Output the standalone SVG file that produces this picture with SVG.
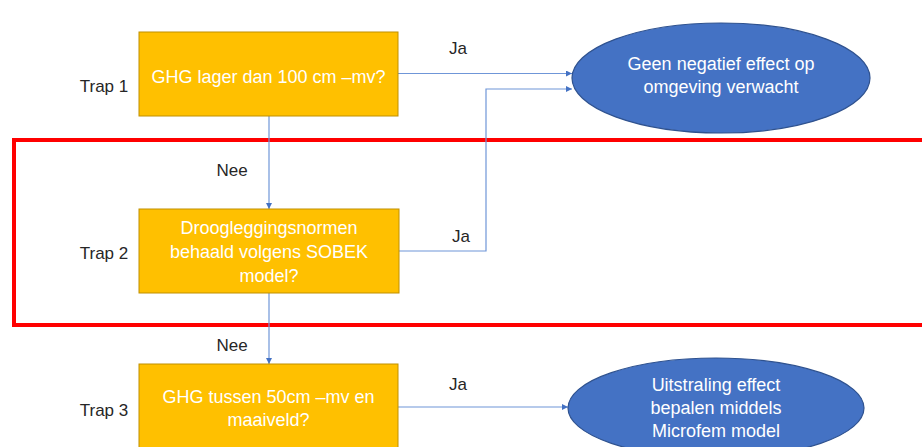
<svg xmlns="http://www.w3.org/2000/svg" width="922" height="447" viewBox="0 0 922 447">
<style>
.box{fill:#FFC000;stroke:#C09000;stroke-width:1}
.ell{fill:#4472C4;stroke:#2F528F;stroke-width:1.2}
.wt{font-family:"Liberation Sans",Arial,sans-serif;font-size:18px;fill:#FFFFFF;text-anchor:middle}
.bt{font-family:"Liberation Sans",Arial,sans-serif;font-size:17px;fill:#262626;text-anchor:middle}
.con{fill:none;stroke:#6F96D8;stroke-width:1.2}
</style>
<defs>
<marker id="arr" viewBox="0 0 10 10" refX="10" refY="5" markerWidth="6" markerHeight="6" markerUnits="userSpaceOnUse" orient="auto">
<path d="M0,0 L10,5 L0,10 z" fill="#4472C4"/>
</marker>
</defs>
<rect width="922" height="447" fill="#FFFFFF"/>
<g id="highlight">
<rect x="14" y="140" width="914" height="185" fill="none" stroke="#FF0000" stroke-width="4"/>
</g>
<g id="connectors">
<path class="con" d="M398,73.5 L572,73.5" marker-end="url(#arr)"/>
<path class="con" d="M269,116 L269,209" marker-end="url(#arr)"/>
<path class="con" d="M399,251 L486,251 L486,89 L572,89" marker-end="url(#arr)"/>
<path class="con" d="M269,293 L269,364" marker-end="url(#arr)"/>
<path class="con" d="M398,407 L568,407" marker-end="url(#arr)"/>
<text class="bt" x="458" y="54">Ja</text>
<text class="bt" x="461" y="242">Ja</text>
<text class="bt" x="458" y="390">Ja</text>
<text class="bt" x="232" y="176">Nee</text>
<text class="bt" x="232" y="351">Nee</text>
</g>
<g id="trap1">
<text class="bt" x="104" y="92">Trap 1</text>
<rect class="box" x="139" y="32" width="259" height="84"/>
<text class="wt" x="268.5" y="83">GHG lager dan 100 cm –mv?</text>
</g>
<g id="trap2">
<text class="bt" x="104" y="259">Trap 2</text>
<rect class="box" x="139" y="209" width="260" height="84"/>
<text class="wt" x="269" y="234">Droogleggingsnormen</text>
<text class="wt" x="269" y="258">behaald volgens SOBEK</text>
<text class="wt" x="269" y="282">model?</text>
</g>
<g id="trap3">
<text class="bt" x="104" y="416">Trap 3</text>
<rect class="box" x="139" y="364" width="259" height="100"/>
<text class="wt" x="268.5" y="403">GHG tussen 50cm –mv en</text>
<text class="wt" x="268.5" y="426">maaiveld?</text>
</g>
<g id="result1">
<ellipse class="ell" cx="721" cy="78" rx="149" ry="55"/>
<text class="wt" x="721" y="70">Geen negatief effect op</text>
<text class="wt" x="721" y="93">omgeving verwacht</text>
</g>
<g id="result2">
<ellipse class="ell" cx="716" cy="408" rx="148" ry="50"/>
<text class="wt" x="716" y="391">Uitstraling effect</text>
<text class="wt" x="716" y="414">bepalen middels</text>
<text class="wt" x="716" y="437">Microfem model</text>
</g>
</svg>
